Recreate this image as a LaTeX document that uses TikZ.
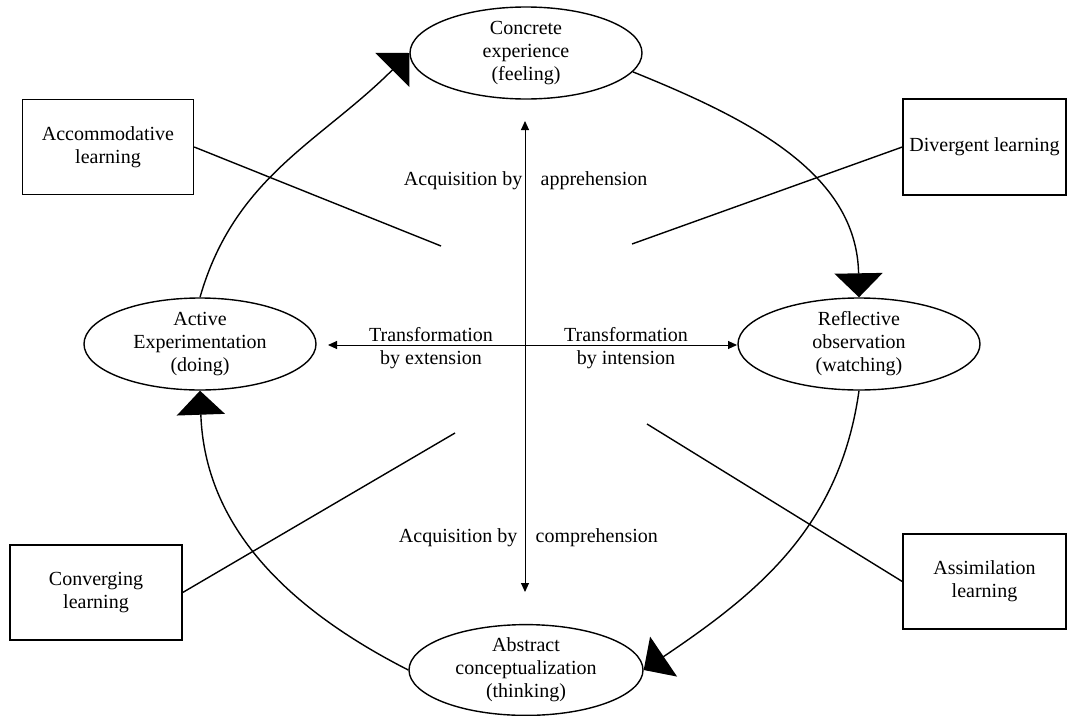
\documentclass[tikz,border=0pt]{standalone}
\usepackage{fontspec}
\setmainfont{Liberation Serif}
\usetikzlibrary{arrows.meta,shapes.geometric}
\begin{document}
\begin{tikzpicture}[x=1pt,y=-1pt, line width=1.4pt,
  every node/.style={font=\fontsize{20}{23}\selectfont, align=center},
  stage/.style={ellipse, draw, minimum width=232pt, minimum height=92pt, inner sep=0pt},
  stylebox/.style={draw, rectangle, inner sep=0pt},
  cyclearrow/.style={-{Triangle[length=24pt,width=48pt]}},
  axisarrow/.style={{Triangle[length=9pt,width=8pt]}-{Triangle[length=9pt,width=8pt]}, line width=1pt},
  label/.style={inner sep=0pt}]
\useasboundingbox (0,0) rectangle (1068,715);

% stages
\node[stage] (con) at (526,53) {Concrete\\experience\\(feeling)};
\node[stage, minimum width=242pt] (ref) at (859,344) {Reflective\\observation\\(watching)};
\node[stage] (act) at (200,344) {Active\\Experimentation\\(doing)};
\node[stage, minimum width=234pt, minimum height=90pt] (abs) at (526,670) {Abstract\\conceptualization\\(thinking)};

% learning style boxes
\node[stylebox, minimum width=171pt, minimum height=95pt] (acc) at (108,147) {Accommodative\\learning};
\node[stylebox, minimum width=163pt, minimum height=96pt] (div) at (984.5,147) {Divergent learning};
\node[stylebox, minimum width=172pt, minimum height=95pt] (conv) at (96,592.5) {Converging\\learning};
\node[stylebox, minimum width=163pt, minimum height=95pt] (ass) at (984.5,581.5) {Assimilation\\learning};

% cycle arrows
\draw[cyclearrow] (act.north) to[out=74, in=225] (con.west);
\draw[cyclearrow] (con.-10) to[out=-22, in=91] (ref.north);
\draw[cyclearrow] (ref.south) to[out=-98, in=34] (abs.east);
\draw[cyclearrow] (abs.west) to[out=153, in=-88] (act.south);

% axes
\coordinate (vtop) at (525,121);
\coordinate (vbot) at (525,592);
\coordinate (hleft) at (328,345);
\coordinate (hright) at (737,345);
\draw[axisarrow] (vtop) -- (vbot);
\draw[axisarrow] (hleft) -- (hright);

% diagonal links
\coordinate (accEnd) at (441,246);
\coordinate (divEnd) at (632,244);
\coordinate (convEnd) at (455,433);
\coordinate (assEnd) at (647,424);
\draw (acc.east) -- (accEnd);
\draw (div.west) -- (divEnd);
\draw (conv.east) -- (convEnd);
\draw (ass.west) -- (assEnd);

% axis labels
\node[label, anchor=base east] (aq1) at (523,185) {Acquisition by};
\node[label, anchor=base west] (app) at (540,185) {apprehension};
\node[label, anchor=base east] (aq2) at (518,542) {Acquisition by};
\node[label, anchor=base west] (comp) at (535,542) {comprehension};
\node[label] (text) at (431,348) {Transformation\\by extension};
\node[label] (tint) at (626,348) {Transformation\\by intension};
\end{tikzpicture}
\end{document}
